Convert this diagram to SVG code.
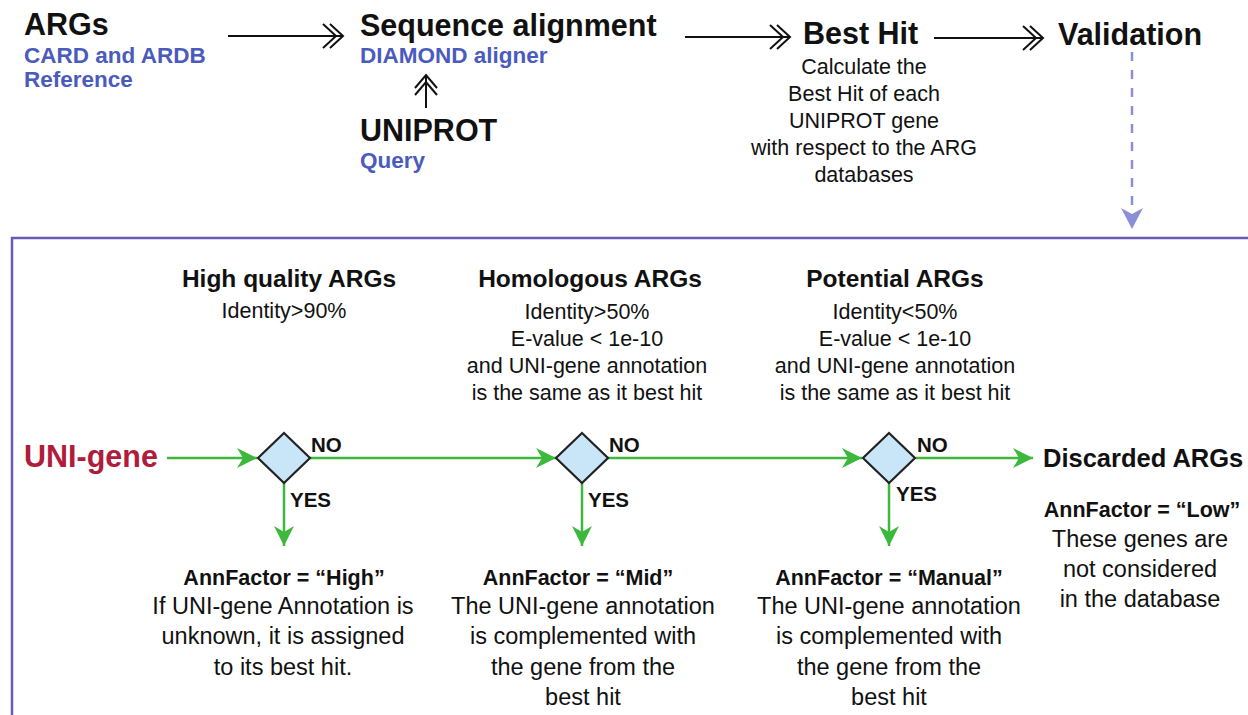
<svg xmlns="http://www.w3.org/2000/svg" width="1248" height="715" viewBox="0 0 1248 715">
<style>
text{font-family:"Liberation Sans",Arial,sans-serif;fill:#111}
.title{font-size:30.5px;font-weight:bold}
.sub{font-size:22.5px;font-weight:bold;fill:#4a5bbd}
.tbody{font-size:21.5px;text-anchor:middle}
.head{font-size:24.5px;font-weight:bold;text-anchor:middle}
.crit{font-size:21.5px;text-anchor:middle}
.ann{font-size:21.5px;font-weight:bold;text-anchor:middle}
.body{font-size:23.5px;text-anchor:middle}
.lbl{font-size:20.5px;font-weight:bold}
.chev{fill:none;stroke:#111;stroke-width:2}
.bl{stroke:#111;stroke-width:2;fill:none}
.gl{stroke:#3cb93c;stroke-width:2.5;fill:none}
.dia{fill:#c8e6f7;stroke:#222;stroke-width:2.2;stroke-linejoin:miter}
</style>
<defs>
<marker id="garrow" markerUnits="userSpaceOnUse" markerWidth="24" markerHeight="24" viewBox="-20 -12 24 24" refX="0" refY="0" orient="auto">
<path d="M0,0 L-20,-10 L-14,0 L-20,10 Z" fill="#3cb93c"/>
</marker>
<marker id="parrow" markerUnits="userSpaceOnUse" markerWidth="26" markerHeight="26" viewBox="-22 -13 26 26" refX="0" refY="0" orient="auto">
<path d="M0,0 L-21,-11 L-15,0 L-21,11 Z" fill="#8a8fd6"/>
</marker>
</defs>

<g id="frame">
<path d="M1248,238 H12 V715" fill="none" stroke="#6a5bb5" stroke-width="2.5"/>
</g>

<g id="connectors">
<line class="bl" x1="228" y1="36" x2="342" y2="36"/>
<path class="chev" d="M330,24 L343,36 L330,48 M323,24 L336,36 L323,48"/>
<line class="bl" x1="685" y1="37" x2="789" y2="37"/>
<path class="chev" d="M777,25 L790,37 L777,49 M770,25 L783,37 L770,49"/>
<line class="bl" x1="934" y1="38" x2="1042" y2="38"/>
<path class="chev" d="M1030,26 L1043,38 L1030,50 M1023,26 L1036,38 L1023,50"/>
<line class="bl" x1="426" y1="108" x2="426" y2="76"/>
<path class="chev" d="M415,88 L426,75 L437,88 M415,95 L426,82 L437,95"/>
<line x1="1132" y1="52" x2="1132" y2="229" stroke="#8a8fd6" stroke-width="2.5" stroke-dasharray="9,9" marker-end="url(#parrow)"/>
<line class="gl" x1="167" y1="458" x2="257" y2="458" marker-end="url(#garrow)"/>
<line class="gl" x1="310" y1="458" x2="556" y2="458" marker-end="url(#garrow)"/>
<line class="gl" x1="608" y1="458" x2="862" y2="458" marker-end="url(#garrow)"/>
<line class="gl" x1="916" y1="458" x2="1033" y2="458" marker-end="url(#garrow)"/>
<line class="gl" x1="284" y1="483" x2="284" y2="546" marker-end="url(#garrow)"/>
<line class="gl" x1="582" y1="483" x2="582" y2="546" marker-end="url(#garrow)"/>
<line class="gl" x1="889" y1="483" x2="889" y2="546" marker-end="url(#garrow)"/>
<text class="lbl" x="311" y="452">NO</text>
<text class="lbl" x="609" y="452">NO</text>
<text class="lbl" x="917" y="452">NO</text>
<text class="lbl" x="290" y="507">YES</text>
<text class="lbl" x="588" y="507">YES</text>
<text class="lbl" x="896" y="501">YES</text>
</g>

<g id="args">
<text class="title" x="24" y="35">ARGs</text>
<text class="sub" x="24" y="63">CARD and ARDB</text>
<text class="sub" x="24" y="87">Reference</text>
</g>
<g id="seqalign">
<text class="title" x="360" y="36">Sequence alignment</text>
<text class="sub" x="360" y="63">DIAMOND aligner</text>
</g>
<g id="uniprot">
<text class="title" x="360" y="141">UNIPROT</text>
<text class="sub" x="360" y="168">Query</text>
</g>
<g id="besthit">
<text class="title" x="803" y="44">Best Hit</text>
<text class="tbody" x="864" y="74">Calculate the</text>
<text class="tbody" x="864" y="101">Best Hit of each</text>
<text class="tbody" x="864" y="128">UNIPROT gene</text>
<text class="tbody" x="864" y="155">with respect to the ARG</text>
<text class="tbody" x="864" y="182">databases</text>
</g>
<g id="validation">
<text class="title" x="1058" y="45">Validation</text>
</g>

<g id="unigene">
<text x="24" y="467" style="font-size:30.5px;font-weight:bold;fill:#b01c3c">UNI-gene</text>
</g>

<g id="highquality">
<text class="head" x="289" y="287">High quality ARGs</text>
<text class="crit" x="284" y="318">Identity&gt;90%</text>
<polygon class="dia" points="284,433 310,458 284,483 258,458"/>
<text class="ann" x="284" y="585">AnnFactor = “High”</text>
<text class="body" x="283" y="614">If UNI-gene Annotation is</text>
<text class="body" x="283" y="644">unknown, it is assigned</text>
<text class="body" x="283" y="675">to its best hit.</text>
</g>

<g id="homologous">
<text class="head" x="590" y="287">Homologous ARGs</text>
<text class="crit" x="587" y="319">Identity&gt;50%</text>
<text class="crit" x="587" y="346">E-value &lt; 1e-10</text>
<text class="crit" x="587" y="373">and UNI-gene annotation</text>
<text class="crit" x="587" y="400">is the same as it best hit</text>
<polygon class="dia" points="582,433 608,458 582,483 556,458"/>
<text class="ann" x="578" y="585">AnnFactor = “Mid”</text>
<text class="body" x="583" y="614">The UNI-gene annotation</text>
<text class="body" x="583" y="644">is complemented with</text>
<text class="body" x="583" y="675">the gene from the</text>
<text class="body" x="583" y="705">best hit</text>
</g>

<g id="potential">
<text class="head" x="895" y="287">Potential ARGs</text>
<text class="crit" x="895" y="319">Identity&lt;50%</text>
<text class="crit" x="895" y="346">E-value &lt; 1e-10</text>
<text class="crit" x="895" y="373">and UNI-gene annotation</text>
<text class="crit" x="895" y="400">is the same as it best hit</text>
<polygon class="dia" points="889,433 915,458 889,483 863,458"/>
<text class="ann" x="889" y="585">AnnFactor = “Manual”</text>
<text class="body" x="889" y="614">The UNI-gene annotation</text>
<text class="body" x="889" y="644">is complemented with</text>
<text class="body" x="889" y="675">the gene from the</text>
<text class="body" x="889" y="705">best hit</text>
</g>

<g id="discarded">
<text x="1043" y="467" style="font-size:25.5px;font-weight:bold">Discarded ARGs</text>
<text class="ann" x="1142" y="517">AnnFactor = “Low”</text>
<text class="body" x="1140" y="547">These genes are</text>
<text class="body" x="1140" y="577">not considered</text>
<text class="body" x="1140" y="607">in the database</text>
</g>
</svg>
